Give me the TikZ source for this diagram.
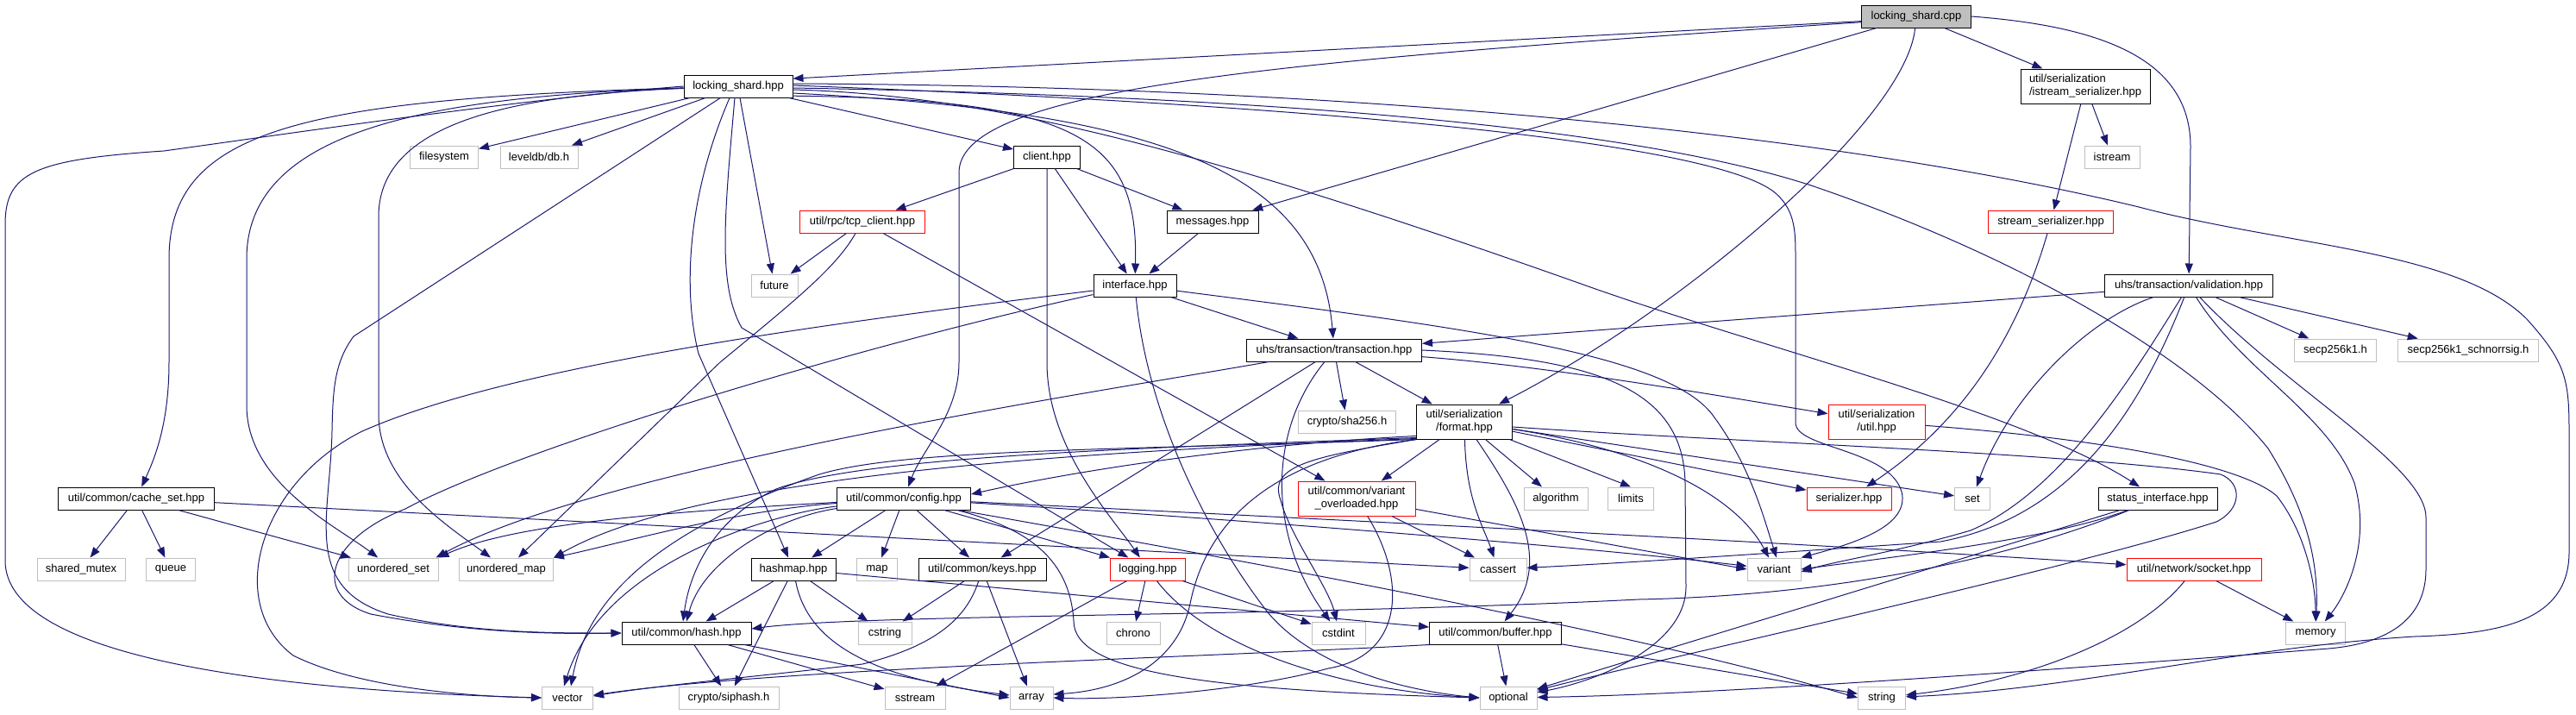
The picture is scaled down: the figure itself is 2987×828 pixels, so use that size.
\documentclass[tikz,border=0pt]{standalone}
\usepackage{fontspec}
\setmainfont{Liberation Sans}
\usepackage{xcolor}
\definecolor{cEdge}{HTML}{191970}
\definecolor{cSys}{HTML}{BFBFBF}
\definecolor{cCut}{HTML}{FF0000}
\definecolor{cRoot}{HTML}{BFBFBF}
\usepackage{tikz}
\usetikzlibrary{arrows.meta}
\tikzset{
  node-file/.style={draw=black,line width=1pt,rectangle,minimum height=26pt,
    inner sep=2pt,align=center,text=black,font=\fontsize{13}{15}\selectfont},
  node-sys/.style={node-file,draw=cSys},
  node-cut/.style={node-file,draw=cCut},
  node-root/.style={node-file,fill=cRoot},
  two-line/.style={minimum height=40pt},
  bw/.style={minimum width=#1pt},
  arrow-inc/.style={-{Triangle[length=12pt,width=9pt]},line width=1pt,draw=cEdge},
}

\begin{document}
\begin{tikzpicture}[x=1pt,y=-1pt]
  \useasboundingbox (0,0) rectangle (2987,828);
  % files
  \node[node-root,bw=127] (cpp) at (2222,19) {locking\_shard.cpp};
  \node[node-file,bw=126] (lshpp) at (856,100) {locking\_shard.hpp};
  \node[node-file,bw=150,two-line,align=left] (iser) at (2418,100) {util/serialization\\/istream\_serializer.hpp};
  \node[node-sys,bw=79] (filesystem) at (515,182) {filesystem};
  \node[node-sys,bw=90] (leveldb) at (625,182) {leveldb/db.h};
  \node[node-file,bw=77] (client) at (1214,182) {client.hpp};
  \node[node-sys,bw=64] (istream) at (2449,182) {istream};
  \node[node-cut,bw=145] (tcpclient) at (1000,257) {util/rpc/tcp\_client.hpp};
  \node[node-file,bw=106] (messages) at (1406,257) {messages.hpp};
  \node[node-cut,bw=145] (streamser) at (2378,257) {stream\_serializer.hpp};
  \node[node-sys,bw=54] (future) at (898,331) {future};
  \node[node-file,bw=96] (interface) at (1316,331) {interface.hpp};
  \node[node-file,bw=195] (validation) at (2538,331) {uhs/transaction/validation.hpp};
  \node[node-file,bw=203] (transaction) at (1547,406) {uhs/transaction/transaction.hpp};
  \node[node-sys,bw=95] (secp) at (2708,406) {secp256k1.h};
  \node[node-sys,bw=163] (schnorr) at (2862,406) {secp256k1\_schnorrsig.h};
  \node[node-sys,bw=113] (sha) at (1562,489) {crypto/sha256.h};
  \node[node-file,bw=111,two-line] (format) at (1698,489) {util/serialization\\/format.hpp};
  \node[node-cut,bw=112,two-line] (sutil) at (2176,489) {util/serialization\\/util.hpp};
  \node[node-file,bw=181] (cacheset) at (158,578) {util/common/cache\_set.hpp};
  \node[node-file,bw=155] (config) at (1048,578) {util/common/config.hpp};
  \node[node-cut,bw=136,two-line] (varover) at (1573,578) {util/common/variant\\\_overloaded.hpp};
  \node[node-sys,bw=74] (algorithm) at (1804,578) {algorithm};
  \node[node-sys,bw=53] (limits) at (1891,578) {limits};
  \node[node-cut,bw=98] (serializer) at (2144,578) {serializer.hpp};
  \node[node-sys,bw=41] (set) at (2287,578) {set};
  \node[node-file,bw=138] (statusif) at (2502,578) {status\_interface.hpp};
  \node[node-sys,bw=102] (sharedmutex) at (94,660) {shared\_mutex};
  \node[node-sys,bw=57] (queue) at (198,660) {queue};
  \node[node-sys,bw=104] (uset) at (456,660) {unordered\_set};
  \node[node-sys,bw=109] (umap) at (587,660) {unordered\_map};
  \node[node-file,bw=98] (hashmap) at (920,660) {hashmap.hpp};
  \node[node-sys,bw=47] (map) at (1017,660) {map};
  \node[node-file,bw=148] (keys) at (1139,660) {util/common/keys.hpp};
  \node[node-cut,bw=87] (logging) at (1331,660) {logging.hpp};
  \node[node-sys,bw=66] (cassert) at (1737,660) {cassert};
  \node[node-sys,bw=62] (variant) at (2057,660) {variant};
  \node[node-cut,bw=156] (socket) at (2544,660) {util/network/socket.hpp};
  \node[node-file,bw=150] (hash) at (796,734) {util/common/hash.hpp};
  \node[node-sys,bw=62] (cstring) at (1026,734) {cstring};
  \node[node-sys,bw=62] (chrono) at (1314,734) {chrono};
  \node[node-sys,bw=62] (cstdint) at (1552,734) {cstdint};
  \node[node-file,bw=153] (buffer) at (1734,734) {util/common/buffer.hpp};
  \node[node-sys,bw=69] (memory) at (2685,734) {memory};
  \node[node-sys,bw=59] (vector) at (658,809) {vector};
  \node[node-sys,bw=116] (siphash) at (845,809) {crypto/siphash.h};
  \node[node-sys,bw=70] (sstream) at (1061,809) {sstream};
  \node[node-sys,bw=50] (array) at (1196,809) {array};
  \node[node-sys,bw=66] (optional) at (1749,809) {optional};
  \node[node-sys,bw=55] (string) at (2182,809) {string};

  % locking_shard.cpp
  \draw[arrow-inc] (cpp.185) -- (lshpp.8);
  \draw[arrow-inc] (cpp) -- (messages);
  \draw[arrow-inc] (cpp.186) .. controls (1500,70) and (1112,100) .. (1112,200) -- (1112,420)
    .. controls (1112,480) and (1070,520) .. (config);
  \draw[arrow-inc] (cpp) .. controls (2210,140) and (1950,360) .. (format);
  \draw[arrow-inc] (cpp) -- (iser);
  \draw[arrow-inc] (cpp.east) .. controls (2430,30) and (2540,65) .. (2540,170) -- (validation);

  % locking_shard.hpp
  \draw[arrow-inc] (lshpp.west) .. controls (600,115) and (300,160) .. (190,175)
    .. controls (40,185) and (6,200) .. (6,260) -- (6,650)
    .. controls (6,760) and (300,800) .. (vector.west);
  \draw[arrow-inc] (lshpp) .. controls (350,115) and (196,150) .. (196,300) -- (196,420)
    .. controls (196,490) and (180,530) .. (cacheset);
  \draw[arrow-inc] (lshpp) .. controls (500,112) and (286,150) .. (286,300) -- (286,470)
    .. controls (286,560) and (390,610) .. (uset);
  \draw[arrow-inc] (lshpp) -- (410,390) .. controls (388,420) and (386,450) .. (385,500)
    .. controls (383,600) and (350,680) .. (450,712) .. controls (550,735) and (650,734) .. (hash.west);
  \draw[arrow-inc] (lshpp) .. controls (600,110) and (440,140) .. (439,250) -- (439,480)
    .. controls (439,560) and (520,610) .. (umap);
  \draw[arrow-inc] (lshpp) -- (filesystem);
  \draw[arrow-inc] (lshpp) -- (leveldb);
  \draw[arrow-inc] ([xshift=-10pt]lshpp.south) .. controls (800,220) and (790,330) .. (810,410) -- (hashmap);
  \draw[arrow-inc] ([xshift=-4pt]lshpp.south) .. controls (840,250) and (832,330) .. (860,380) -- (logging);
  \draw[arrow-inc] ([xshift=2pt]lshpp.south) -- (future);
  \draw[arrow-inc] (lshpp) -- (client);
  \draw[arrow-inc] (lshpp.350) .. controls (1250,115) and (1320,160) .. (interface);
  \draw[arrow-inc] ([yshift=-8pt]lshpp.east) .. controls (1350,130) and (1530,200) .. (transaction);
  \draw[arrow-inc] ([yshift=-4pt]lshpp.east) .. controls (1150,110) and (1400,175) .. (1850,335)
    .. controls (2050,405) and (2350,480) .. (statusif);
  \draw[arrow-inc] ([yshift=-2pt]lshpp.east) .. controls (1500,112) and (1900,150) .. (2100,215)
    .. controls (2350,300) and (2550,420) .. (2630,520) .. controls (2680,600) and (2688,660) .. (memory);
  \draw[arrow-inc] ([yshift=1pt]lshpp.east) .. controls (1600,125) and (2000,170) .. (2060,225)
    .. controls (2082,245) and (2082,270) .. (2082,300) -- (2082,490)
    .. controls (2082,520) and (2190,520) .. (2205,570) .. controls (2215,610) and (2150,630) .. (variant.north east);
  \draw[arrow-inc] ([yshift=3pt]lshpp.east) .. controls (1600,100) and (2150,160) .. (2480,240)
    .. controls (2650,285) and (2850,290) .. (2930,370) .. controls (2975,420) and (2979,440) .. (2979,500)
    -- (2979,640) .. controls (2979,720) and (2900,735) .. (2800,738)
    .. controls (2600,750) and (2400,800) .. (string);

  % istream_serializer.hpp, stream_serializer.hpp
  \draw[arrow-inc] (iser) -- (istream);
  \draw[arrow-inc] (iser) -- (streamser);
  \draw[arrow-inc] (streamser) .. controls (2345,370) and (2290,480) .. (serializer);

  % client.hpp, tcp_client.hpp, messages.hpp
  \draw[arrow-inc] (client) -- (tcpclient);
  \draw[arrow-inc] (client) -- (messages);
  \draw[arrow-inc] (client) -- (interface);
  \draw[arrow-inc] (client) -- (1214,420) .. controls (1214,520) and (1290,600) .. (logging);
  \draw[arrow-inc] (tcpclient) -- (future);
  \draw[arrow-inc] ([xshift=-8pt]tcpclient.south) .. controls (970,310) and (920,350) .. (835,420) -- (umap);
  \draw[arrow-inc] (tcpclient) -- (varover);
  \draw[arrow-inc] (messages) -- (interface);

  % interface.hpp
  \draw[arrow-inc] (interface) -- (transaction);
  \draw[arrow-inc] (interface) .. controls (1700,380) and (1930,410) .. (1985,480)
    .. controls (2030,540) and (2045,600) .. ([xshift=3pt]variant.north);
  \draw[arrow-inc] (interface) .. controls (1330,480) and (1400,620) .. (1470,710)
    .. controls (1520,770) and (1620,800) .. (optional.west);
  \draw[arrow-inc] (interface) .. controls (1000,370) and (600,420) .. (420,500)
    .. controls (300,560) and (260,700) .. (340,760) .. controls (420,800) and (560,808) .. (vector.west);
  \draw[arrow-inc] (interface) .. controls (1000,400) and (600,520) .. (470,590)
    .. controls (380,625) and (360,690) .. (430,712) .. controls (550,735) and (650,735) .. (hash.west);

  % transaction.hpp
  \draw[arrow-inc] (transaction) -- (format);
  \draw[arrow-inc] (transaction) -- (sha);
  \draw[arrow-inc] (transaction) .. controls (1470,500) and (1470,620) .. (cstdint);
  \draw[arrow-inc] (transaction) -- (keys);
  \draw[arrow-inc] (transaction) .. controls (1300,450) and (700,540) .. ([xshift=-3pt]uset.north east);
  \draw[arrow-inc] (transaction) .. controls (1800,425) and (2000,460) .. (sutil);
  \draw[arrow-inc] (transaction.east) .. controls (1850,415) and (1952,450) .. (1954,560) -- (1955,680)
    .. controls (1955,750) and (1850,790) .. (optional);

  % format.hpp
  \draw[arrow-inc] (format) -- (varover);
  \draw[arrow-inc] (format) -- (algorithm);
  \draw[arrow-inc] (format) -- (limits.north);
  \draw[arrow-inc] (format) .. controls (1700,580) and (1720,610) .. (cassert);
  \draw[arrow-inc] (format) .. controls (1760,580) and (1800,650) .. (buffer);
  \draw[arrow-inc] ([yshift=4pt]format.south west) .. controls (1450,515) and (1250,545) .. ([yshift=5pt]config.east);
  \draw[arrow-inc] ([yshift=2pt]format.south west) .. controls (1300,520) and (1000,530) .. (900,567)
    .. controls (830,600) and (800,660) .. ([xshift=-4pt]hash.north);
  \draw[arrow-inc] ([yshift=1pt]format.south west) .. controls (1300,522) and (820,545) .. (umap.north east);
  \draw[arrow-inc] (format.south west) .. controls (1300,522) and (1050,520) .. (950,550)
    .. controls (750,620) and (680,700) .. ([xshift=4pt]vector.north);
  \draw[arrow-inc] (format.south west) .. controls (1520,530) and (1470,540) .. (1485,580)
    .. controls (1495,620) and (1540,680) .. ([xshift=-2pt]cstdint.north);
  \draw[arrow-inc] (format.south west) .. controls (1480,530) and (1400,600) .. (1380,700)
    .. controls (1365,770) and (1300,800) .. ([yshift=4pt]array.east);
  \draw[arrow-inc] (format) -- (serializer);
  \draw[arrow-inc] (format) -- (set);
  \draw[arrow-inc] (format) .. controls (1900,520) and (2010,570) .. ([xshift=-6pt]variant.north);
  \draw[arrow-inc] ([yshift=-6pt]format.east) .. controls (2000,512) and (2400,525) .. (2575,550)
    .. controls (2600,560) and (2600,590) .. (2570,605) .. controls (2400,660) and (1900,770) .. (optional);

  % variant_overloaded.hpp
  \draw[arrow-inc] (varover) -- (cassert);
  \draw[arrow-inc] (varover) -- (variant.west);
  \draw[arrow-inc] (varover) .. controls (1630,670) and (1630,760) .. (1540,775)
    .. controls (1450,800) and (1300,812) .. (array.east);

  % config.hpp
  \draw[arrow-inc] (config) -- (hashmap);
  \draw[arrow-inc] (config) -- (map);
  \draw[arrow-inc] (config) -- (keys);
  \draw[arrow-inc] (config) -- (logging.north west);
  \draw[arrow-inc] ([xshift=62pt]config.south) .. controls (1180,610) and (1240,640) .. (1245,720)
    .. controls (1245,780) and (1400,800) .. (optional.west);
  \draw[arrow-inc] (config) .. controls (1400,600) and (1800,630) .. (variant);
  \draw[arrow-inc] (config) .. controls (1500,600) and (2100,630) .. (socket);
  \draw[arrow-inc] ([xshift=64pt]config.south) .. controls (1500,660) and (1900,735) .. (string.west);
  \draw[arrow-inc] (config) .. controls (900,600) and (815,650) .. (hash.north);
  \draw[arrow-inc] (config) .. controls (900,595) and (700,650) .. ([xshift=-4pt]vector.north);
  \draw[arrow-inc] (config) .. controls (850,592) and (720,630) .. (umap.north east);
  \draw[arrow-inc] (config) .. controls (800,592) and (600,605) .. (uset.north east);

  % cache_set.hpp, hashmap.hpp, hash.hpp, keys.hpp
  \draw[arrow-inc] (cacheset) -- (sharedmutex);
  \draw[arrow-inc] (cacheset) -- (queue);
  \draw[arrow-inc] (cacheset) -- (uset);
  \draw[arrow-inc] (cacheset) -- (cassert);
  \draw[arrow-inc] (hashmap) -- (hash);
  \draw[arrow-inc] (hashmap) -- (siphash);
  \draw[arrow-inc] (hashmap) -- (cstring);
  \draw[arrow-inc] (hashmap) .. controls (935,740) and (1000,785) .. ([yshift=3pt]array.west);
  \draw[arrow-inc] (hashmap) -- (buffer);
  \draw[arrow-inc] (hash) -- (siphash);
  \draw[arrow-inc] (hash) -- (sstream);
  \draw[arrow-inc] (hash) -- (array.west);
  \draw[arrow-inc] (keys) -- (cstring);
  \draw[arrow-inc] (keys) -- (array);
  \draw[arrow-inc] (keys) .. controls (1120,720) and (1080,750) .. (1000,770)
    .. controls (900,782) and (760,795) .. ([yshift=2pt]vector.east);

  % logging.hpp, buffer.hpp, socket.hpp, util.hpp
  \draw[arrow-inc] (logging) -- (chrono);
  \draw[arrow-inc] (logging) -- (sstream);
  \draw[arrow-inc] (logging) -- (cstdint);
  \draw[arrow-inc] (logging) .. controls (1400,750) and (1550,800) .. (optional.west);
  \draw[arrow-inc] (buffer) -- (optional);
  \draw[arrow-inc] (buffer.south west) .. controls (1400,762) and (900,775) .. ([yshift=3pt]vector.east);
  \draw[arrow-inc] (buffer) -- (string);
  \draw[arrow-inc] (socket) -- (memory);
  \draw[arrow-inc] (socket) .. controls (2480,740) and (2350,790) .. (string);
  \draw[arrow-inc] (sutil) .. controls (2450,510) and (2600,540) .. (2640,575)
    .. controls (2675,620) and (2685,680) .. (memory);

  % validation.hpp
  \draw[arrow-inc] (validation) -- (transaction);
  \draw[arrow-inc] (validation) -- (secp);
  \draw[arrow-inc] (validation) -- (schnorr);
  \draw[arrow-inc] (validation) .. controls (2420,370) and (2330,460) .. (set);
  \draw[arrow-inc] (validation) .. controls (2470,440) and (2390,570) .. (2285,615)
    .. controls (2200,640) and (2130,650) .. ([yshift=-3pt]variant.east);
  \draw[arrow-inc] (validation) .. controls (2480,480) and (2400,600) .. (2250,628)
    .. controls (2100,638) and (1900,652) .. (cassert);
  \draw[arrow-inc] (validation) .. controls (2600,430) and (2700,480) .. (2730,560)
    .. controls (2750,630) and (2720,690) .. (memory);
  \draw[arrow-inc] (validation) .. controls (2650,450) and (2813,540) .. (2813,600) -- (2813,660)
    .. controls (2813,710) and (2780,745) .. (2700,752) .. controls (2400,775) and (2000,805) .. (optional);

  % status_interface.hpp
  \draw[arrow-inc] (statusif) .. controls (2380,625) and (2200,645) .. (variant.east);
  \draw[arrow-inc] (statusif) .. controls (2350,640) and (2150,690) .. (1900,695)
    .. controls (1500,715) and (1000,712) .. ([yshift=5pt]hash.east);
  \draw[arrow-inc] (statusif) -- (optional);
\end{tikzpicture}
\end{document}
